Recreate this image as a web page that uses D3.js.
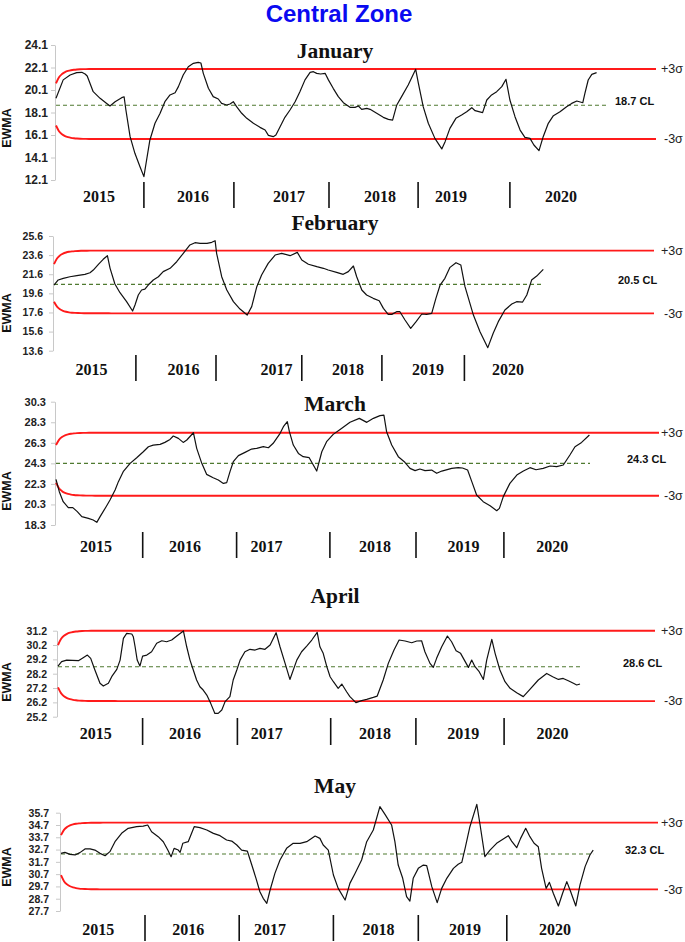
<!DOCTYPE html>
<html><head><meta charset="utf-8">
<script src="https://cdn.jsdelivr.net/npm/d3@7"></script>
<style>body{margin:0;background:#fff}svg{display:block}</style>
</head><body><svg id="c" width="685" height="942"></svg>
<script>
// ---------------- DATA ----------------
const chartTitle = "Central Zone";
const months = ["January", "February", "March", "April", "May"];
const years = ["2015", "2016", "2017", "2018", "2019", "2020"];

// EWMA series: [observation index, EWMA value]
const janSeries = [[0,19.36],[2.4,21.0],[4.7,21.43],[6.9,21.64],[8.6,21.67],[9.7,21.52],[10.4,21.34],[12.4,19.95],[14.7,19.36],[16.9,18.9],[18,18.68],[19.7,19.06],[21.9,19.42],[22.7,19.5],[23.3,18.32],[24.7,15.95],[26.3,14.47],[28,13.28],[29.3,12.4],[30.2,13.88],[31.3,15.66],[33,17.14],[34.7,18.03],[36.3,19.06],[38,19.66],[39.7,19.86],[40.8,20.4],[42.4,21.43],[44.1,22.17],[45.8,22.47],[47.4,22.56],[48.3,22.5],[49.1,21.58],[50.8,20.25],[52.4,19.51],[54.1,19.3],[55.2,18.91],[56.9,18.77],[58,18.86],[59.1,19.06],[60.2,18.62],[61.9,18.03],[63.6,17.58],[65.8,17.14],[68,16.78],[69.7,16.54],[70.8,16.07],[72.4,15.95],[73.3,16.1],[74.7,16.84],[76.3,17.67],[78,18.32],[79.7,19.06],[81.3,19.95],[83,21.0],[84.7,21.67],[85.8,21.73],[86.9,21.58],[88.2,21.52],[89.7,21.58],[90.8,21.0],[92.4,20.25],[94.1,19.51],[95.8,18.97],[98,18.56],[99.7,18.56],[100.8,18.68],[101.9,18.38],[103.6,18.47],[104.7,18.38],[106.9,18.03],[109.1,17.67],[110.8,17.49],[112.2,17.43],[113.6,18.77],[115.2,19.51],[117.4,20.54],[119.9,21.94],[120.8,20.69],[122.4,18.62],[124.1,17.14],[126.3,15.8],[128.6,14.86],[129.7,15.51],[131.3,16.69],[133.3,17.58],[135.2,17.88],[136.9,18.17],[138.6,18.53],[139.7,18.26],[142.2,18.09],[143.6,19.21],[145.2,19.66],[146.9,19.95],[148.6,20.4],[150,21.05],[151.3,19.21],[153,17.73],[154.7,16.54],[156.3,15.89],[158,15.8],[159.3,15.21],[161,14.71],[162.4,15.95],[164.1,17.14],[165.8,17.82],[168,18.17],[170.2,18.62],[171.9,18.91],[173.6,19.12],[175.6,18.97],[176.3,19.8],[177.4,20.99],[178.6,21.49],[180.2,21.64]];

const febSeries = [[0,20.47],[1.4,21.0],[3.1,21.17],[5.3,21.34],[7.6,21.45],[10.3,21.59],[12,21.76],[13.1,22.04],[14.8,22.64],[16.4,23.16],[17.8,23.54],[18.7,22.22],[20.3,20.58],[22,19.67],[24.2,18.73],[26.2,17.75],[27,18.38],[28.1,19.43],[29.2,19.95],[30.3,20.05],[31.4,20.47],[33.1,21.0],[34.8,21.34],[36.4,21.87],[38.7,22.22],[40.9,22.91],[43.1,23.79],[45.3,24.66],[47,24.9],[48.7,24.83],[51,24.83],[52.6,24.94],[53.7,25.11],[54.2,23.79],[55.9,21.34],[57.6,19.95],[59.8,18.73],[62,17.96],[64.4,17.33],[65.9,18.21],[67.6,20.3],[69.2,21.52],[71.4,22.74],[73.7,23.61],[75.9,23.79],[78.7,23.54],[81.1,23.89],[82.6,23.09],[84.8,22.64],[87.6,22.39],[89.8,22.22],[91.4,22.04],[94.2,21.8],[96.4,21.59],[98.1,21.87],[99.8,22.46],[100.9,21.34],[102.6,19.95],[104.2,19.43],[106.4,19.08],[108.4,18.83],[109.8,18.03],[111.4,17.4],[112.6,17.4],[114.2,17.68],[115.3,17.68],[117,16.81],[118.9,15.94],[120.7,16.64],[122.6,17.44],[124.2,17.4],[125.9,17.51],[127.3,19.08],[128.7,20.47],[130.3,21.17],[132,22.32],[134,22.81],[135.6,22.57],[137,20.3],[139.8,17.33],[142,15.59],[144.6,13.92],[146.4,15.42],[148.1,16.64],[150.3,17.86],[152.6,18.48],[154.2,18.73],[156.2,18.69],[157.6,19.43],[159.2,20.99],[160.9,21.41],[163.1,22.11]];

const marSeries = [[0,22.74],[1.1,21.54],[2.4,20.57],[4.1,19.99],[5.6,19.99],[7.1,19.6],[8.6,19.11],[10.8,18.95],[12.4,18.79],[13.6,18.56],[14.7,19.11],[16.7,20.08],[18,20.73],[19.7,21.7],[20.8,22.52],[22.4,23.49],[24.7,24.3],[26.9,24.85],[29.1,25.43],[30.8,25.92],[32.4,26.08],[34.7,26.15],[36.3,26.34],[38,26.63],[39.1,26.96],[40.8,26.73],[42.4,26.34],[43.6,26.57],[45.8,27.28],[46.9,25.76],[48.6,24.3],[50.2,23.23],[52.4,22.9],[54.1,22.68],[55.8,22.35],[56.9,22.42],[58,23.49],[59.1,24.46],[60.8,25.05],[63,25.37],[65.2,25.69],[66.9,25.76],[69.1,25.92],[70.8,25.82],[72.4,26.25],[74.7,27.22],[75.8,27.87],[77.1,28.35],[77.8,27.38],[79.1,26.08],[80.8,25.27],[82.4,24.95],[84.4,24.85],[86.9,23.55],[88.6,25.43],[90.2,26.41],[92.4,27.12],[94.7,27.6],[98,28.3],[101.1,28.68],[103.6,28.29],[105.8,28.68],[108,28.94],[109.3,29.0],[110.2,27.38],[111.9,26.08],[114.1,24.95],[116.3,24.4],[118,23.81],[119.7,23.59],[121.3,23.75],[123,23.59],[125.2,23.65],[126.9,23.33],[128.6,23.55],[131.9,23.81],[134.1,23.88],[135.5,23.85],[137.2,23.65],[138.6,22.52],[140.2,21.22],[142.4,20.57],[144.7,20.18],[146.9,19.69],[147.8,19.92],[149.1,21.06],[151.3,22.35],[153.6,23.16],[155.8,23.55],[158,23.88],[160,23.68],[162.4,23.81],[164.7,24.04],[166.9,23.98],[169.1,24.14],[171.3,25.11],[173,25.92],[175.2,26.34],[177.8,27.06]];

const aprSeries = [[0,28.73],[1.2,29.04],[2.9,29.15],[6.8,29.11],[8.4,29.32],[9.8,29.5],[10.9,29.27],[12.3,28.46],[14,27.53],[15.1,27.34],[16.8,27.53],[17.9,27.99],[19.6,28.5],[20.7,29.15],[21.8,30.67],[22.9,31.01],[24.6,30.97],[25.1,30.78],[25.7,30.08],[26.4,29.15],[27.3,28.73],[28.2,29.43],[29.6,29.5],[31.2,29.73],[32.9,30.32],[34.6,30.5],[36.2,30.43],[37.9,30.55],[39.6,30.83],[41.8,31.18],[42.9,30.08],[44,29.15],[45.1,28.46],[46.2,27.76],[47.3,27.29],[48.4,27.06],[49.6,26.71],[50.9,26.13],[52.3,25.43],[53.4,25.43],[54.6,25.67],[55.7,26.25],[57.3,26.6],[58.4,27.76],[59.6,28.46],[60.7,29.15],[62.3,29.73],[64,29.9],[65.7,29.85],[67.3,29.97],[69,29.9],[70.7,30.2],[72.7,31.06],[74,30.08],[75.7,28.92],[77.3,27.8],[79.6,29.15],[81.2,29.73],[82.9,30.13],[84.6,30.55],[86.4,31.08],[87.3,30.08],[88.4,29.62],[89.6,28.69],[90.7,27.99],[91.8,27.64],[93.4,27.18],[94.6,27.48],[96.2,26.94],[97.3,26.6],[99.3,26.18],[101.2,26.32],[102.9,26.41],[105.1,26.55],[106.4,26.64],[108.4,27.76],[110.1,28.92],[112,29.85],[113.7,30.55],[115.7,30.48],[117.9,30.36],[119.6,30.48],[121.2,30.5],[122.3,29.73],[124,28.92],[125.1,28.64],[126.2,29.27],[127.9,30.08],[129.8,30.83],[131.2,30.43],[132.7,29.8],[134.2,29.62],[136.8,28.64],[137.9,29.15],[139,28.69],[140.4,28.34],[141.8,27.8],[142.9,29.15],[144.6,30.6],[145.7,29.62],[147.3,28.46],[149,27.64],[150.7,27.18],[152.9,26.87],[155.1,26.6],[157.3,27.11],[160.1,27.76],[162.9,28.22],[164.9,27.99],[166.8,27.8],[168.4,27.87],[170.1,27.71],[171.8,27.53],[172.9,27.41],[174,27.48]];

const maySeries = [[0,32.39],[1.3,32.47],[3,32.31],[4.7,32.26],[6.3,32.45],[8,32.75],[9.7,32.75],[11.3,32.66],[13,32.39],[14.7,32.2],[16.3,32.53],[18,33.34],[20.2,34.02],[22.4,34.43],[25.2,34.56],[27.4,34.61],[28.9,34.7],[30.2,34.15],[32.4,33.75],[34.1,33.34],[35.6,32.66],[36.7,32.12],[37.7,32.8],[39.1,32.66],[39.7,32.47],[40.6,33.21],[42.4,33.34],[44.4,34.56],[46.3,34.48],[48.6,34.29],[50.8,34.02],[53,33.83],[55.2,33.48],[56.9,33.39],[58.6,33.07],[60.2,32.66],[62.1,32.58],[63.6,31.44],[65,30.36],[66.3,29.27],[67.4,28.73],[68.6,28.32],[69.7,29.41],[71.3,30.76],[73,31.85],[75.2,32.8],[77.4,33.21],[79.7,33.21],[81.9,33.34],[84.7,33.8],[86.3,33.61],[87.4,33.07],[89.1,32.66],[90.8,30.63],[92.4,29.54],[94.7,28.59],[96.3,29.95],[98,30.76],[100.2,31.85],[101.9,33.34],[104.1,34.29],[106.3,36.19],[108,35.56],[110.2,34.7],[111.3,33.34],[112.4,31.44],[113.9,30.36],[115.2,28.87],[116.3,28.51],[117.4,30.36],[119.1,31.17],[120.8,31.44],[121.9,31.39],[123.6,29.68],[125.4,28.38],[126.9,29.54],[128.6,30.36],[130.8,31.17],[132.4,31.5],[133.6,31.66],[134.7,32.8],[136.3,34.56],[138.6,36.38],[139.7,34.7],[141.3,32.12],[143,32.66],[145.2,33.21],[146.9,33.48],[149.1,33.83],[150.2,33.39],[151.9,32.85],[153.2,33.61],[154.9,34.43],[156.3,33.75],[157.7,33.21],[159.1,32.93],[160.2,31.17],[161.7,29.54],[162.8,30.03],[164.1,29.14],[165.8,28.11],[167.2,29.14],[168.6,30.09],[169.9,29.27],[171.6,28.11],[173,29.82],[174.7,31.31],[176.3,32.26],[177.4,32.66]];

const centerLines = [18.75, 20.54, 24.3, 28.69, 32.34];
const clLabels = ["18.7 CL", "20.5 CL", "24.3 CL", "28.6 CL", "32.3 CL"];
const upperLimits = [21.97, 24.07, 27.28, 31.2, 34.89];
const lowerLimits = [15.74, 17.51, 21.15, 26.29, 29.46];
const clEnd = [183.6, 163.1, 178, 174, 177.4];
const limitEnd = [200, 200, 201, 199, 199];

const yTicks = [
  [24.1, 22.1, 20.1, 18.1, 16.1, 14.1, 12.1],
  [25.6, 23.6, 21.6, 19.6, 17.6, 15.6, 13.6],
  [30.3, 28.3, 26.3, 24.3, 22.3, 20.3, 18.3],
  [31.2, 30.2, 29.2, 28.2, 27.2, 26.2, 25.2],
  [35.7, 34.7, 33.7, 32.7, 31.7, 30.7, 29.7, 28.7, 27.7]
];
const yearCenters = [
  [14.3, 45.7, 77.7, 108, 131.7, 168.3],
  [12.5, 43.2, 74.2, 98, 124.7, 151.3],
  [13.3, 43, 70.2, 106.3, 135.8, 165.4],
  [12.6, 42.3, 69.6, 105.7, 135.1, 164.8],
  [12.4, 42.4, 69.7, 105.8, 134.7, 164.7]
];
const yearSeparators = [
  [29.3, 59.3, 91, 120.7, 151.3],
  [27.3, 54, 82.6, 109.3, 136.8],
  [28.9, 60.2, 91.3, 120, 149.3],
  [28.2, 59.8, 90.9, 119.3, 148.7],
  [28, 59.4, 90.8, 119.1, 148.6]
];
const LAMBDA = 0.2;

// ---------------- LAYOUT ----------------
const layout = [
  {left:56, top:45,    bottom:180,   titleY:58,  yearY:201.5, sepTop:182, sepBot:208, ewmaY:128, tickFont:12,   tickPad:3, clX:615},
  {left:54, top:236,   bottom:350.7, titleY:230, yearY:375,   sepTop:355, sepBot:381, ewmaY:313, tickFont:10.5, tickPad:6, clX:618},
  {left:56, top:401.7, bottom:525,   titleY:411, yearY:552,   sepTop:532, sepBot:558, ewmaY:491, tickFont:11,   tickPad:5, clX:627},
  {left:58, top:630.7, bottom:716.7, titleY:603, yearY:739,   sepTop:718, sepBot:745, ewmaY:682, tickFont:10.5, tickPad:6, clX:623},
  {left:61, top:812.7, bottom:911,   titleY:793, yearY:935,   sepTop:915, sepBot:941, ewmaY:867, tickFont:10.5, tickPad:7, clX:625}
];
const seriesList = [janSeries, febSeries, marSeries, aprSeries, maySeries];

const svg = d3.select("#c");
svg.append("rect").attr("width",685).attr("height",942).attr("fill","#fff");

svg.append("text").attr("x",339).attr("y",22).attr("text-anchor","middle")
  .attr("font-family","Liberation Sans, Arial, sans-serif").attr("font-weight","bold")
  .attr("font-size",24).attr("fill","#0a0af0").text(chartTitle);

layout.forEach((L, p) => {
  const g = svg.append("g");
  const x = d3.scaleLinear().domain([0, 200]).range([L.left, L.left + 600]);
  const tv = yTicks[p];
  const y = d3.scaleLinear().domain([tv[tv.length-1], tv[0]]).range([L.bottom, L.top]);

  // axis
  const ax = g.append("g").attr("transform", `translate(${L.left - 1},0)`)
    .call(d3.axisLeft(y).tickValues(tv).tickSize(4).tickSizeOuter(0).tickPadding(L.tickPad).tickFormat(d3.format(".1f")));
  ax.select(".domain").attr("stroke","#c8c8c8");
  ax.selectAll(".tick line").attr("stroke","#c8c8c8");
  ax.selectAll(".tick text").attr("font-family","Liberation Sans, Arial, sans-serif")
    .attr("font-weight","bold").attr("font-size",L.tickFont).attr("fill","#222");

  // EWMA label
  g.append("text").attr("transform",`translate(10.5,${L.ewmaY}) rotate(-90)`)
    .attr("text-anchor","middle").attr("font-family","Liberation Sans, Arial, sans-serif")
    .attr("font-weight","bold").attr("font-size",12.5).attr("fill","#111").text("EWMA");

  // title
  g.append("text").attr("x",335).attr("y",L.titleY).attr("text-anchor","middle")
    .attr("font-family","Liberation Serif, Times New Roman, serif").attr("font-weight","bold")
    .attr("font-size",21.5).attr("fill","#111").text(months[p]);

  // control limits (EWMA time-varying limits)
  const cl = centerLines[p], ucl = upperLimits[p], lcl = lowerLimits[p];
  const idx = d3.range(0, limitEnd[p] + 1);
  const fac = i => Math.sqrt(1 - Math.pow(1 - LAMBDA, 2 * (i + 1)));
  const limLine = d3.line().curve(d3.curveMonotoneX);
  g.append("path").attr("fill","none").attr("stroke","#ff1a1a").attr("stroke-width",1.9)
    .attr("d", limLine(idx.map(i => [x(i), y(cl + (ucl - cl) * fac(i))])));
  g.append("path").attr("fill","none").attr("stroke","#ff1a1a").attr("stroke-width",1.9)
    .attr("d", limLine(idx.map(i => [x(i), y(cl - (cl - lcl) * fac(i))])));

  // center line
  g.append("line").attr("x1",x(0)).attr("x2",x(clEnd[p])).attr("y1",y(cl)).attr("y2",y(cl))
    .attr("stroke","#4f7a30").attr("stroke-width",1.1).attr("stroke-dasharray","4,3");

  // EWMA line
  g.append("path").attr("fill","none").attr("stroke","#111").attr("stroke-width",1.2)
    .attr("stroke-linejoin","round")
    .attr("d", d3.line().x(d => x(d[0])).y(d => y(d[1]))(seriesList[p]));

  // labels on right
  const lf = "Liberation Sans, Arial, sans-serif";
  g.append("text").attr("x", 661).attr("y", y(ucl)).attr("dy","0.35em")
    .attr("font-family",lf).attr("font-size",12.5).attr("fill","#222").text("+3σ");
  g.append("text").attr("x", 664).attr("y", y(lcl)).attr("dy","0.35em")
    .attr("font-family",lf).attr("font-size",12.5).attr("fill","#222").text("-3σ");
  g.append("text").attr("x", L.clX).attr("y", y(cl))
    .attr("font-family",lf).attr("font-weight","bold").attr("font-size",11).attr("fill","#111").text(clLabels[p]);

  // year separators and labels
  yearSeparators[p].forEach(s => {
    g.append("line").attr("x1",x(s)).attr("x2",x(s)).attr("y1",L.sepTop).attr("y2",L.sepBot)
      .attr("stroke","#111").attr("stroke-width",1.6);
  });
  years.forEach((yr, k) => {
    g.append("text").attr("x", x(yearCenters[p][k])).attr("y", L.yearY).attr("text-anchor","middle")
      .attr("font-family","Liberation Serif, Times New Roman, serif").attr("font-weight","bold")
      .attr("font-size",16).attr("fill","#111").text(yr);
  });
});
</script>
</body></html>
